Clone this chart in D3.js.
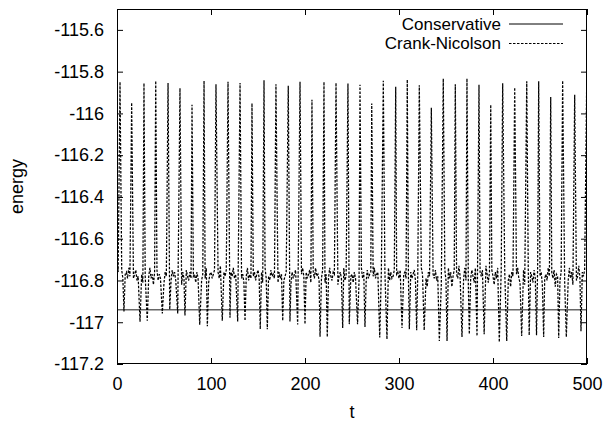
<!DOCTYPE html>
<html><head><meta charset="utf-8">
<script src="https://cdn.jsdelivr.net/npm/d3@7"></script>
<style>
html,body{margin:0;padding:0;background:#fff;}
svg{display:block;}
text{font-family:"Liberation Sans",Arial,Helvetica,sans-serif;fill:#000;}
</style></head>
<body>
<svg id="chart" width="606" height="423"></svg>
<script>
// ---- data ----
const xTicks = [0, 100, 200, 300, 400, 500];
const yTicks = [-117.2, -117, -116.8, -116.6, -116.4, -116.2, -116, -115.8, -115.6];
const yTickLabels = ["-117.2", "-117", "-116.8", "-116.6", "-116.4", "-116.2", "-116", "-115.8", "-115.6"];
const seriesNames = ["Conservative", "Crank-Nicolson"];

// Conservative scheme: constant energy
const conservativeT = [0, 500];
const conservativeE = [-116.94, -116.94];

// Crank-Nicolson: upward spikes (t, energy)
const cnPeakT = [3.2, 15.6, 28.7, 41.2, 54.3, 67.0, 79.8, 92.6, 105.3, 118.1,
  130.9, 143.6, 156.4, 169.1, 182.2, 194.7, 207.4, 220.2, 233.0, 245.7,
  258.5, 271.0, 283.3, 296.5, 308.8, 321.6, 334.4, 347.1, 359.9, 372.3,
  385.1, 397.6, 410.3, 423.1, 435.9, 448.6, 461.4, 474.1, 486.9, 499.7];
const cnPeakE = [-115.849, -115.948, -115.855, -115.844, -115.854, -115.879, -115.959, -115.844, -115.860, -115.849,
  -115.854, -115.951, -115.841, -115.860, -115.868, -115.848, -115.935, -115.849, -115.854, -115.857,
  -115.863, -115.953, -115.844, -115.872, -115.838, -115.865, -115.973, -115.833, -115.860, -115.833,
  -115.863, -115.959, -115.855, -115.876, -115.846, -115.846, -115.922, -115.843, -115.911, -115.844];

// Crank-Nicolson: downward spikes (t, energy)
const cnDipT = [7.4, 24.5, 32.2, 48.2, 56.1, 64.6, 72.3, 88.0, 96.1, 112.0,
  120.2, 128.4, 136.2, 152.4, 159.9, 176.3, 184.0, 192.2, 200.0, 216.0,
  223.7, 240.1, 247.1, 255.9, 263.8, 279.5, 287.2, 303.2, 311.0, 318.8,
  326.8, 342.9, 351.1, 367.0, 374.8, 383.0, 390.6, 406.7, 414.6, 430.5,
  438.5, 446.3, 453.9, 469.9, 478.0, 493.6];
const cnDipE = [-116.948, -116.998, -116.993, -116.958, -116.939, -116.958, -116.968, -117.012, -117.019, -116.993,
  -116.979, -116.996, -116.993, -117.033, -117.034, -116.993, -116.997, -117.011, -117.009, -117.070,
  -117.071, -117.028, -117.009, -117.009, -117.023, -117.073, -117.081, -117.028, -117.033, -117.038,
  -117.038, -117.090, -117.090, -117.071, -117.057, -117.066, -117.057, -117.095, -117.090, -117.066,
  -117.062, -117.062, -117.071, -117.076, -117.071, -117.043];

// Crank-Nicolson: background jitter, sampled every 1.25 time units from t = 0
const cnBase = [
-116.70,-116.76,-116.80,-116.77,-116.75,-116.79,-116.81,-116.77,-116.76,-116.79,-116.74,-116.78,-116.80,-116.76,-116.79,-116.77,-116.75,-116.80,-116.78,-116.76,
-116.79,-116.77,-116.81,-116.75,-116.78,-116.80,-116.76,-116.78,-116.74,-116.79,-116.77,-116.82,-116.76,-116.78,-116.75,-116.80,-116.77,-116.79,-116.76,-116.78,
-116.81,-116.76,-116.78,-116.74,-116.79,-116.77,-116.80,-116.75,-116.78,-116.76,-116.80,-116.77,-116.79,-116.75,-116.78,-116.82,-116.76,-116.79,-116.77,-116.75,
-116.78,-116.80,-116.76,-116.79,-116.74,-116.78,-116.77,-116.81,-116.76,-116.79,-116.75,-116.78,-116.80,-116.77,-116.76,-116.79,-116.74,-116.78,-116.81,-116.77,
-116.76,-116.79,-116.77,-116.75,-116.80,-116.78,-116.76,-116.79,-116.73,-116.78,-116.80,-116.76,-116.78,-116.75,-116.79,-116.77,-116.82,-116.76,-116.78,-116.74,
-116.79,-116.77,-116.80,-116.76,-116.78,-116.75,-116.79,-116.77,-116.81,-116.76,-116.78,-116.74,-116.80,-116.77,-116.79,-116.75,-116.78,-116.76,-116.80,-116.77,
-116.75,-116.79,-116.78,-116.76,-116.81,-116.77,-116.74,-116.79,-116.76,-116.78,-116.80,-116.75,-116.78,-116.77,-116.79,-116.73,-116.78,-116.81,-116.76,-116.79,
-116.77,-116.75,-116.80,-116.78,-116.76,-116.79,-116.74,-116.78,-116.82,-116.76,-116.79,-116.77,-116.75,-116.80,-116.78,-116.76,-116.79,-116.77,-116.74,-116.78,
-116.80,-116.76,-116.79,-116.77,-116.75,-116.81,-116.78,-116.76,-116.79,-116.74,-116.78,-116.77,-116.80,-116.76,-116.79,-116.75,-116.78,-116.81,-116.77,-116.76,
-116.79,-116.74,-116.78,-116.80,-116.76,-116.77,-116.79,-116.75,-116.82,-116.78,-116.76,-116.79,-116.77,-116.74,-116.80,-116.78,-116.76,-116.79,-116.75,-116.78,
-116.77,-116.81,-116.76,-116.79,-116.75,-116.78,-116.80,-116.77,-116.74,-116.79,-116.76,-116.78,-116.81,-116.75,-116.79,-116.77,-116.76,-116.80,-116.78,-116.74,
-116.79,-116.77,-116.76,-116.80,-116.78,-116.75,-116.79,-116.82,-116.76,-116.78,-116.77,-116.74,-116.80,-116.76,-116.79,-116.78,-116.75,-116.81,-116.77,-116.76,
-116.79,-116.75,-116.78,-116.80,-116.77,-116.76,-116.79,-116.74,-116.78,-116.81,-116.76,-116.79,-116.77,-116.75,-116.80,-116.78,-116.76,-116.79,-116.77,-116.74,
-116.77,-116.80,-116.75,-116.79,-116.83,-116.76,-116.78,-116.74,-116.81,-116.77,-116.79,-116.75,-116.80,-116.78,-116.73,-116.79,-116.82,-116.76,-116.78,-116.75,
-116.80,-116.77,-116.74,-116.79,-116.76,-116.83,-116.78,-116.75,-116.80,-116.77,-116.79,-116.73,-116.78,-116.81,-116.76,-116.79,-116.74,-116.80,-116.77,-116.82,
-116.76,-116.79,-116.75,-116.78,-116.81,-116.74,-116.79,-116.77,-116.83,-116.76,-116.78,-116.75,-116.80,-116.79,-116.73,-116.77,-116.81,-116.76,-116.79,-116.75,
-116.78,-116.82,-116.76,-116.79,-116.74,-116.80,-116.77,-116.75,-116.81,-116.78,-116.76,-116.79,-116.73,-116.80,-116.77,-116.83,-116.76,-116.78,-116.75,-116.80,
-116.77,-116.74,-116.79,-116.81,-116.76,-116.78,-116.75,-116.82,-116.79,-116.77,-116.74,-116.80,-116.76,-116.78,-116.81,-116.75,-116.79,-116.77,-116.73,-116.80,
-116.78,-116.76,-116.82,-116.75,-116.79,-116.77,-116.80,-116.74,-116.78,-116.81,-116.76,-116.79,-116.75,-116.83,-116.77,-116.78,-116.74,-116.80,-116.76,-116.79,
-116.77,-116.81,-116.75,-116.78,-116.80,-116.74,-116.79,-116.76,-116.82,-116.77,-116.75,-116.80,-116.78,-116.73,-116.79,-116.81,-116.76,-116.78,-116.75,-116.80,
-116.78];
const cnBaseStep = 1.25;

// ---- build ----
const W = 606, H = 423;
const margin = {left: 117, right: 19, top: 9, bottom: 59};
const svg = d3.select("#chart");
const x = d3.scaleLinear().domain([0, 500]).range([margin.left, W - margin.right]);
const y = d3.scaleLinear().domain([-117.2, -115.5]).range([H - margin.bottom, margin.top]);

// merge CN points
const features = cnPeakT.map((t, i) => [t, cnPeakE[i]])
  .concat(cnDipT.map((t, i) => [t, cnDipE[i]]));
const cnPts = features.slice();
cnBase.forEach((v, i) => {
  const t = i * cnBaseStep;
  if (t > 500) return;
  if (features.some(f => Math.abs(f[0] - t) < 1.0)) return;
  cnPts.push([t, v]);
});
cnPts.sort((a, b) => a[0] - b[0]);

const plot = svg.append("g");
plot.append("defs").append("clipPath").attr("id", "clip")
  .append("rect").attr("x", margin.left).attr("y", margin.top)
  .attr("width", W - margin.left - margin.right).attr("height", H - margin.top - margin.bottom);

const line = d3.line().x(d => x(d[0])).y(d => y(d[1]));

plot.append("path")
  .datum(conservativeT.map((t, i) => [t, conservativeE[i]]))
  .attr("clip-path", "url(#clip)")
  .attr("d", line).attr("fill", "none")
  .attr("stroke", "#666").attr("stroke-width", 1.6);

plot.append("path")
  .datum(cnPts)
  .attr("clip-path", "url(#clip)")
  .attr("d", line).attr("fill", "none")
  .attr("stroke", "#000").attr("stroke-width", 1.25)
  .attr("stroke-dasharray", "2.5,1.5");

// axes
const fs = 18;
const axB = svg.append("g").attr("transform", `translate(0,${H - margin.bottom})`)
  .call(d3.axisBottom(x).tickValues(xTicks).tickSize(-6).tickPadding(13.5).tickFormat(d3.format("d")));
const axT = svg.append("g").attr("transform", `translate(0,${margin.top})`)
  .call(d3.axisTop(x).tickValues(xTicks).tickSize(-6).tickFormat(""));
const axL = svg.append("g").attr("transform", `translate(${margin.left},0)`)
  .call(d3.axisLeft(y).tickValues(yTicks).tickSize(-6).tickPadding(13)
    .tickFormat((d, i) => yTickLabels[i]));
const axR = svg.append("g").attr("transform", `translate(${W - margin.right},0)`)
  .call(d3.axisRight(y).tickValues(yTicks).tickSize(-6).tickFormat(""));
[axB, axT, axL, axR].forEach(a => {
  a.select(".domain").remove();
  a.selectAll("line").attr("stroke", "#000");
  a.selectAll("text").style("font-size", fs + "px")
    .style("font-family", '"Liberation Sans", Arial, sans-serif');
});

// frame
svg.append("rect").attr("x", margin.left + 0.5).attr("y", margin.top + 0.5)
  .attr("width", W - margin.left - margin.right - 1).attr("height", H - margin.top - margin.bottom - 1)
  .attr("fill", "none").attr("stroke", "#000").attr("stroke-width", 1);

// axis titles
svg.append("text").attr("x", x(250)).attr("y", 418).attr("text-anchor", "middle")
  .style("font-size", fs + "px").text("t");
svg.append("text").attr("transform", `translate(23,${(margin.top + H - margin.bottom) / 2}) rotate(-90)`)
  .attr("text-anchor", "middle").style("font-size", fs + "px").text("energy");

// legend
const legFs = 17;
const leg = svg.append("g");
const legendRows = [
  {name: seriesNames[0], dash: null, cy: 23.5},
  {name: seriesNames[1], dash: "2.5,1.5", cy: 43}
];
legendRows.forEach(r => {
  leg.append("text").attr("x", 501).attr("y", r.cy + 6).attr("text-anchor", "end")
    .style("font-size", legFs + "px").text(r.name);
  leg.append("line").attr("x1", 509).attr("x2", 563).attr("y1", r.cy + 0.5).attr("y2", r.cy + 0.5)
    .attr("stroke", "#000").attr("stroke-width", 1)
    .attr("stroke-dasharray", r.dash);
});
</script>
</body></html>
